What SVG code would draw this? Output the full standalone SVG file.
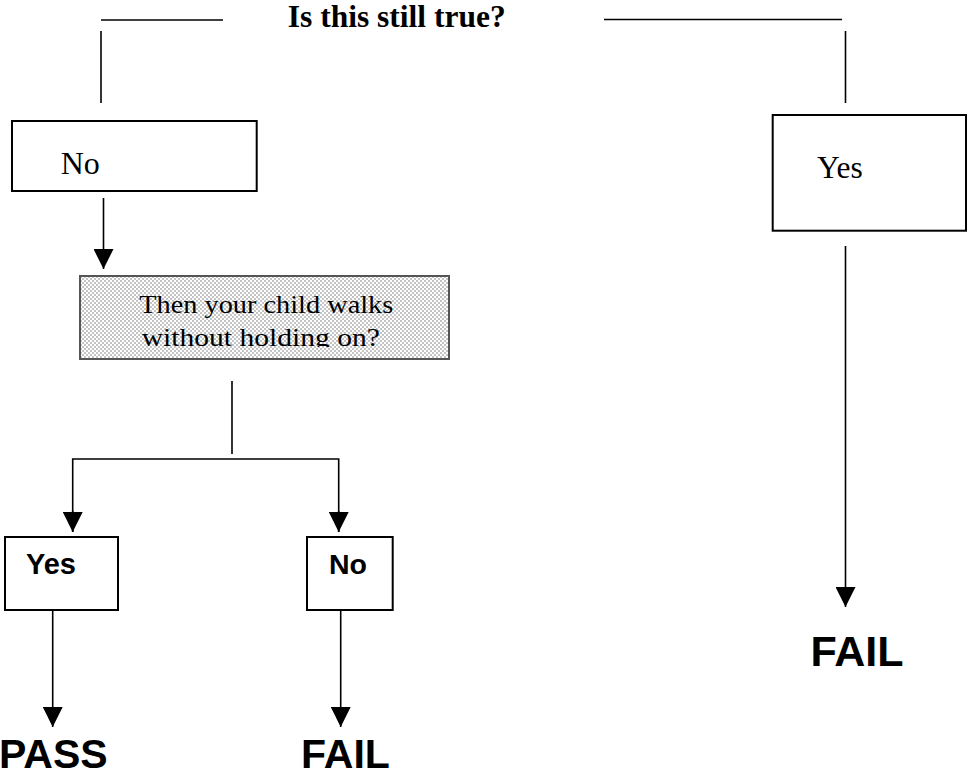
<svg xmlns="http://www.w3.org/2000/svg" width="967" height="777" viewBox="0 0 967 777">
<style>
.ln{stroke:#000;stroke-width:1.6;fill:none}
.box{fill:#fff;stroke:#000;stroke-width:2}
.tr{font-family:"Liberation Serif","Times New Roman",serif;fill:#000}
.ab{font-family:"Liberation Sans",Arial,sans-serif;font-weight:bold;fill:#000}
</style>
<defs>
<marker id="ah" markerUnits="userSpaceOnUse" markerWidth="20" markerHeight="20" viewBox="0 0 20 20" refX="20" refY="10" orient="auto">
<path d="M0,0 L20,10 L0,20 z" fill="#000"/>
</marker>
<pattern id="chk" width="4" height="4" patternUnits="userSpaceOnUse">
<rect width="4" height="4" fill="#fff"/>
<rect width="2" height="2" fill="#c4c4c4"/>
<rect x="2" y="2" width="2" height="2" fill="#c4c4c4"/>
</pattern>
<clipPath id="clipq"><rect x="80" y="276" width="369" height="71"/></clipPath>
</defs>
<rect width="967" height="777" fill="#fff"/>
<g id="connectors">
<line class="ln" x1="101" y1="20" x2="223" y2="20"/>
<line class="ln" x1="101" y1="31" x2="101" y2="103"/>
<line class="ln" x1="604" y1="19.5" x2="842" y2="19.5"/>
<line class="ln" x1="845.5" y1="31" x2="845.5" y2="103"/>
<line class="ln" x1="103.5" y1="198" x2="103.5" y2="269" marker-end="url(#ah)"/>
<line class="ln" x1="232" y1="381" x2="232" y2="454"/>
<polyline class="ln" points="72.7,532 72.7,459 338.7,459 338.7,532"/>
<line class="ln" x1="72.7" y1="511" x2="72.7" y2="532" marker-end="url(#ah)"/>
<line class="ln" x1="338.7" y1="511" x2="338.7" y2="532" marker-end="url(#ah)"/>
<line class="ln" x1="52.7" y1="607" x2="52.7" y2="727" marker-end="url(#ah)"/>
<line class="ln" x1="340.7" y1="607" x2="340.7" y2="727" marker-end="url(#ah)"/>
<line class="ln" x1="845.5" y1="246" x2="845.5" y2="607" marker-end="url(#ah)"/>
</g>
<g id="title">
<text class="tr" x="396.7" y="26.7" font-size="31.5" font-weight="bold" text-anchor="middle">Is this still true?</text>
</g>
<g id="node-no-top">
<rect class="box" x="12" y="121" width="244.7" height="70"/>
<text class="tr" x="60.7" y="174.3" font-size="32">No</text>
</g>
<g id="node-yes-top">
<rect class="box" x="772.7" y="115" width="193.3" height="115.7"/>
<text class="tr" x="817" y="178" font-size="31.5">Yes</text>
</g>
<g id="node-question">
<rect x="80" y="276" width="369" height="83" fill="url(#chk)" stroke="#555" stroke-width="2"/>
<text class="tr" x="139.3" y="313.3" font-size="25" textLength="254" lengthAdjust="spacingAndGlyphs">Then your child walks</text>
<g clip-path="url(#clipq)">
<text class="tr" x="141.7" y="345.7" font-size="25" textLength="238.3" lengthAdjust="spacingAndGlyphs">without holding on?</text>
</g>
</g>
<g id="node-yes">
<rect class="box" x="5" y="537" width="113" height="73"/>
<text class="ab" x="26" y="574" font-size="29">Yes</text>
</g>
<g id="node-no">
<rect class="box" x="307" y="537" width="85.7" height="73"/>
<text class="ab" x="329" y="574" font-size="28.5">No</text>
</g>
<g id="node-pass">
<text class="ab" x="-1" y="768.3" font-size="41">PASS</text>
</g>
<g id="node-fail-left">
<text class="ab" x="301" y="768.3" font-size="41">FAIL</text>
</g>
<g id="node-fail-right">
<text class="ab" x="857" y="666" font-size="43" text-anchor="middle">FAIL</text>
</g>
</svg>
